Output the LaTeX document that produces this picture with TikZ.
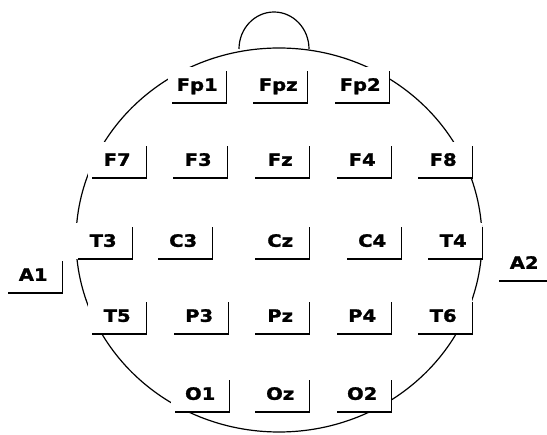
\documentclass[tikz,border=0pt]{standalone}
\usepackage{fontspec}
\newfontfamily\elecfont[FakeStretch=1.15,FakeBold=1.5]{DejaVu Sans}

\begin{document}
\begin{tikzpicture}[
    x=1pt, y=-1pt,
    elec/.style={rectangle, fill=white, inner sep=0pt, minimum width=58pt, minimum height=36pt, anchor=south west, text centered, text height=12pt, text depth=-2pt, font=\elecfont\bfseries\fontsize{17}{19}\selectfont},
    bracket/.style={line width=1.2pt},
    head/.style={line width=1.2pt}
]
\useasboundingbox (0,0) rectangle (547,435);

% head outline and nose
\draw[head] (279,240) ellipse [x radius=203, y radius=192];
\draw[head] (239,49) arc [start angle=180, end angle=360, x radius=35, y radius=37];

% electrodes (south west corner of each box)
\node[elec] (fp1) at (168,103) {Fp1};
\node[elec] (fpz) at (249,103) {Fpz};
\node[elec] (fp2) at (331,103) {Fp2};

\node[elec] (f7) at (88,178) {F7};
\node[elec] (f3) at (169,178) {F3};
\node[elec] (fz) at (251,178) {Fz};
\node[elec] (f4) at (333,178) {F4};
\node[elec] (f8) at (414,178) {F8};

\node[elec] (t3) at (74,259) {T3};
\node[elec] (c3) at (154,259) {C3};
\node[elec] (cz) at (251,259) {Cz};
\node[elec] (c4) at (343,259) {C4};
\node[elec] (t4) at (424,259) {T4};

\node[elec] (a1) at (4,293) {A1};
\node[elec] (a2) at (495,281) {A2};

\node[elec] (t5) at (88,334) {T5};
\node[elec] (p3) at (170,334) {P3};
\node[elec] (pz) at (251,334) {Pz};
\node[elec] (p4) at (333,334) {P4};
\node[elec] (t6) at (414,334) {T6};

\node[elec] (o1) at (171,412) {O1};
\node[elec] (oz) at (251,412) {Oz};
\node[elec] (o2) at (333,412) {O2};

% brackets
\foreach \e in {fp1,fpz,fp2,f7,f3,fz,f4,f8,t3,c3,cz,c4,t4,a1,t5,p3,pz,p4,t6,o1,oz,o2}
    \draw[bracket] ([xshift=4pt]\e.south west) -- (\e.south east) -- ([yshift=-4pt]\e.north east);
\draw[bracket] ([xshift=4pt]a2.south west) -- ++(48,0);
\end{tikzpicture}
\end{document}
